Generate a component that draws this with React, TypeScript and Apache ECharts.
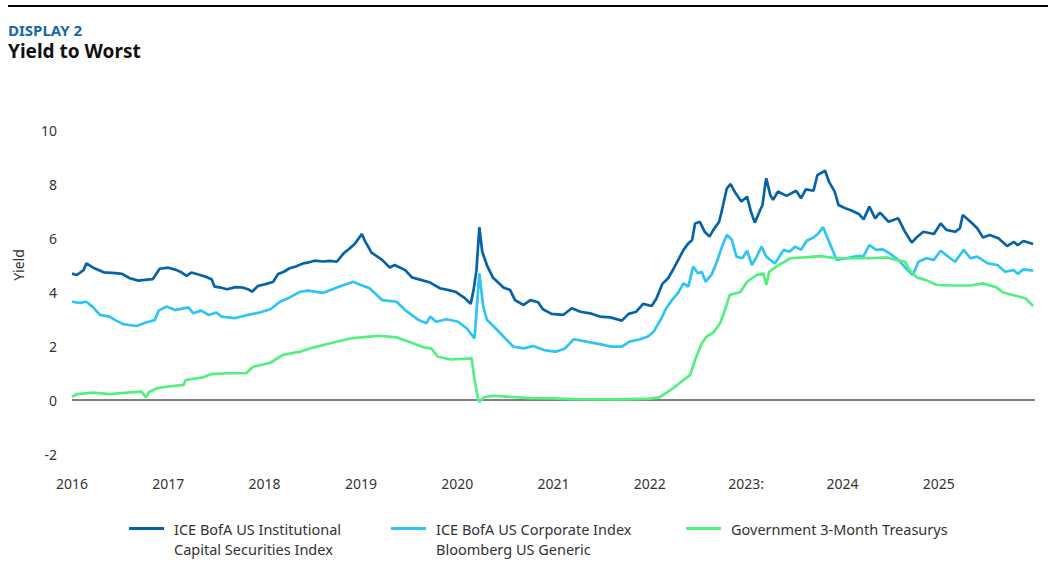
import React, { useEffect, useRef } from "react";
import * as echarts from "echarts";

// [decimal year, yield %]
const capSecurities: [number, number][] = [
  [2016.00,4.68],[2016.05,4.63],[2016.12,4.81],[2016.15,5.06],[2016.22,4.9],[2016.33,4.73],[2016.45,4.7],[2016.52,4.67],[2016.60,4.51],[2016.69,4.42],[2016.78,4.46],[2016.84,4.48],[2016.91,4.86],[2017.00,4.9],[2017.08,4.82],[2017.14,4.72],[2017.19,4.6],[2017.24,4.72],[2017.33,4.63],[2017.40,4.55],[2017.45,4.47],[2017.48,4.2],[2017.55,4.16],[2017.61,4.1],[2017.70,4.18],[2017.78,4.16],[2017.84,4.08],[2017.87,4.01],[2017.93,4.22],[2018.02,4.3],[2018.09,4.38],[2018.14,4.67],[2018.20,4.75],[2018.26,4.88],[2018.33,4.95],[2018.40,5.06],[2018.46,5.1],[2018.52,5.16],[2018.60,5.13],[2018.68,5.15],[2018.75,5.12],[2018.82,5.43],[2018.88,5.6],[2018.94,5.8],[2019.01,6.15],[2019.04,5.9],[2019.11,5.46],[2019.22,5.19],[2019.30,4.91],[2019.35,5.0],[2019.46,4.81],[2019.53,4.54],[2019.63,4.44],[2019.72,4.35],[2019.82,4.14],[2019.90,4.08],[2019.98,4.01],[2020.08,3.77],[2020.14,3.56],[2020.17,4.07],[2020.20,4.81],[2020.23,6.4],[2020.26,5.49],[2020.31,4.98],[2020.37,4.54],[2020.48,4.17],[2020.55,4.07],[2020.60,3.7],[2020.69,3.52],[2020.76,3.7],[2020.84,3.62],[2020.89,3.36],[2020.98,3.19],[2021.10,3.15],[2021.19,3.4],[2021.28,3.27],[2021.38,3.21],[2021.48,3.09],[2021.59,3.06],[2021.71,2.94],[2021.78,3.19],[2021.86,3.27],[2021.93,3.56],[2022.02,3.48],[2022.07,3.77],[2022.13,4.3],[2022.19,4.51],[2022.25,4.88],[2022.35,5.56],[2022.40,5.8],[2022.44,5.93],[2022.47,6.54],[2022.52,6.6],[2022.57,6.23],[2022.62,6.05],[2022.66,6.3],[2022.72,6.6],[2022.75,7.04],[2022.80,7.84],[2022.84,8.0],[2022.88,7.72],[2022.95,7.35],[2023.01,7.53],[2023.05,6.98],[2023.09,6.57],[2023.14,6.98],[2023.17,7.22],[2023.20,8.02],[2023.21,8.21],[2023.25,7.6],[2023.28,7.41],[2023.33,7.72],[2023.42,7.56],[2023.52,7.75],[2023.57,7.47],[2023.62,7.8],[2023.70,7.75],[2023.74,8.33],[2023.82,8.49],[2023.86,8.09],[2023.92,7.72],[2023.96,7.22],[2024.03,7.1],[2024.10,7.01],[2024.17,6.89],[2024.22,6.69],[2024.28,7.16],[2024.34,6.73],[2024.39,6.94],[2024.48,6.6],[2024.58,6.73],[2024.65,6.23],[2024.72,5.83],[2024.77,6.02],[2024.84,6.23],[2024.95,6.15],[2025.02,6.54],[2025.08,6.3],[2025.17,6.23],[2025.22,6.36],[2025.25,6.85],[2025.33,6.6],[2025.40,6.36],[2025.46,6.02],[2025.53,6.11],[2025.62,5.99],[2025.71,5.7],[2025.78,5.86],[2025.82,5.73],[2025.88,5.89],[2025.98,5.78]
];

const corporate: [number, number][] = [
  [2016.00,3.64],[2016.08,3.6],[2016.15,3.64],[2016.22,3.43],[2016.29,3.15],[2016.39,3.09],[2016.45,2.96],[2016.53,2.81],[2016.67,2.74],[2016.76,2.86],[2016.86,2.96],[2016.90,3.31],[2016.98,3.46],[2017.07,3.33],[2017.21,3.43],[2017.26,3.21],[2017.34,3.31],[2017.42,3.15],[2017.50,3.24],[2017.55,3.09],[2017.69,3.03],[2017.82,3.15],[2017.95,3.24],[2018.06,3.36],[2018.16,3.64],[2018.26,3.8],[2018.37,4.01],[2018.45,4.05],[2018.61,3.97],[2018.78,4.2],[2018.92,4.38],[2019.00,4.26],[2019.09,4.14],[2019.22,3.7],[2019.37,3.64],[2019.46,3.33],[2019.60,2.96],[2019.68,2.84],[2019.72,3.09],[2019.78,2.9],[2019.89,2.99],[2020.01,2.9],[2020.10,2.65],[2020.18,2.28],[2020.23,4.69],[2020.27,3.46],[2020.31,2.96],[2020.38,2.72],[2020.48,2.35],[2020.58,1.98],[2020.69,1.91],[2020.79,2.0],[2020.90,1.85],[2021.02,1.79],[2021.12,1.91],[2021.21,2.25],[2021.34,2.16],[2021.48,2.07],[2021.59,1.98],[2021.71,1.98],[2021.79,2.16],[2021.90,2.25],[2021.98,2.35],[2022.04,2.53],[2022.12,3.02],[2022.17,3.4],[2022.23,3.7],[2022.29,3.95],[2022.35,4.32],[2022.40,4.2],[2022.45,4.94],[2022.50,4.69],[2022.54,4.75],[2022.58,4.38],[2022.64,4.63],[2022.69,5.06],[2022.75,5.68],[2022.80,6.11],[2022.85,5.95],[2022.90,5.31],[2022.96,5.25],[2023.01,5.53],[2023.06,5.0],[2023.11,5.31],[2023.16,5.68],[2023.21,5.31],[2023.25,5.19],[2023.30,5.06],[2023.39,5.56],[2023.45,5.49],[2023.51,5.68],[2023.57,5.56],[2023.63,5.9],[2023.70,6.02],[2023.75,6.17],[2023.80,6.4],[2023.84,6.05],[2023.89,5.62],[2023.94,5.19],[2024.04,5.25],[2024.15,5.33],[2024.22,5.33],[2024.28,5.74],[2024.35,5.56],[2024.42,5.58],[2024.49,5.43],[2024.58,5.19],[2024.67,4.84],[2024.73,4.63],[2024.79,5.12],[2024.87,5.25],[2024.95,5.19],[2025.02,5.53],[2025.12,5.25],[2025.17,5.12],[2025.26,5.56],[2025.33,5.25],[2025.40,5.31],[2025.51,5.06],[2025.61,5.0],[2025.69,4.75],[2025.78,4.81],[2025.82,4.67],[2025.88,4.84],[2025.98,4.79]
];

const treasury3m: [number, number][] = [
  [2016.00,0.12],[2016.05,0.22],[2016.22,0.27],[2016.39,0.22],[2016.57,0.27],[2016.72,0.31],[2016.77,0.1],[2016.80,0.3],[2016.88,0.43],[2016.98,0.49],[2017.16,0.56],[2017.18,0.74],[2017.36,0.84],[2017.45,0.96],[2017.61,0.99],[2017.81,0.99],[2017.88,1.23],[2018.06,1.38],[2018.19,1.67],[2018.37,1.79],[2018.47,1.91],[2018.68,2.1],[2018.89,2.28],[2019.09,2.35],[2019.19,2.38],[2019.37,2.32],[2019.45,2.22],[2019.54,2.1],[2019.65,1.95],[2019.73,1.91],[2019.80,1.6],[2019.93,1.5],[2020.15,1.54],[2020.18,0.74],[2020.22,0.0],[2020.23,-0.06],[2020.29,0.12],[2020.39,0.15],[2020.76,0.07],[2020.98,0.06],[2021.20,0.03],[2021.70,0.02],[2022.00,0.05],[2022.10,0.1],[2022.24,0.43],[2022.35,0.74],[2022.42,0.93],[2022.47,1.48],[2022.54,2.1],[2022.59,2.35],[2022.66,2.5],[2022.73,2.84],[2022.78,3.33],[2022.83,3.89],[2022.94,4.0],[2023.01,4.38],[2023.11,4.63],[2023.18,4.69],[2023.21,4.26],[2023.24,4.75],[2023.29,4.88],[2023.34,5.0],[2023.40,5.12],[2023.46,5.25],[2023.60,5.28],[2023.77,5.33],[2023.94,5.25],[2024.11,5.25],[2024.29,5.25],[2024.46,5.28],[2024.56,5.19],[2024.65,5.12],[2024.70,4.81],[2024.77,4.54],[2024.87,4.44],[2024.98,4.26],[2025.14,4.24],[2025.33,4.24],[2025.46,4.32],[2025.60,4.17],[2025.67,3.98],[2025.81,3.85],[2025.90,3.77],[2025.98,3.48]
];

const yearTicks = [2016, 2017, 2018, 2019, 2020, 2021, 2022, 2023, 2024, 2025];
const yearLabels = ["2016", "2017", "2018", "2019", "2020", "2021", "2022", "2023:", "2024", "2025"];

const seriesNames = [
  "ICE BofA US Institutional\nCapital Securities Index",
  "ICE BofA US Corporate Index\nBloomberg US Generic",
  "Government 3-Month Treasurys",
];
const seriesColors = ["#0763A8", "#2EC4F5", "#52F07E"];

const FONT = "'Noto Sans', 'Open Sans', sans-serif";

export default function App() {
  const ref = useRef<HTMLDivElement>(null);
  useEffect(() => {
    if (!ref.current) return;
    const chart = echarts.init(ref.current, null, { renderer: "svg" });
    const datasets = [capSecurities, corporate, treasury3m];
    const legendLefts = [129, 391, 686];
    const secondLines: any[] = [];
    seriesNames.forEach((n, i) => {
      const parts = n.split("\n");
      if (parts.length > 1) {
        secondLines.push({
          type: "text",
          x: legendLefts[i] + 45,
          y: 549,
          style: {
            text: parts[1],
            fill: "#333",
            font: `14.5px ${FONT}`,
            verticalAlign: "middle",
          },
        });
      }
    });
    chart.setOption({
      animation: false,
      textStyle: { fontFamily: FONT },
      grid: { left: 72, right: 21, top: 130, bottom: 108, containLabel: false },
      xAxis: {
        type: "value",
        min: 2016,
        max: 2026,
        interval: 1,
        axisLine: { show: false },
        axisTick: { show: false },
        splitLine: { show: false },
        axisLabel: {
          margin: 22,
          fontSize: 14,
          color: "#333",
          fontFamily: FONT,
          formatter: (v: number) => {
            const i = yearTicks.indexOf(Math.round(v));
            return i >= 0 ? yearLabels[i] : "";
          },
        },
      },
      yAxis: {
        type: "value",
        min: -2,
        max: 10,
        interval: 2,
        axisLine: { show: false },
        axisTick: { show: false },
        splitLine: { show: false },
        axisLabel: { margin: 15, fontSize: 14, color: "#333", fontFamily: FONT },
      },
      legend: seriesNames.map((n, i) => ({
        data: [n],
        left: legendLefts[i],
        top: 519,
        padding: 0,
        icon: "rect",
        itemWidth: 35,
        itemHeight: 3,
        formatter: (name: string) => name.split("\n")[0],
        textStyle: {
          fontSize: 14.5,
          color: "#333",
          fontFamily: FONT,
          lineHeight: 19,
          padding: [0, 0, 0, 5],
        },
      })),
      graphic: [
        {
          type: "rect",
          shape: { x: 8, y: 5, width: 1040, height: 2 },
          style: { fill: "#000" },
        },
        {
          type: "text",
          x: 8,
          y: 22,
          style: { text: "DISPLAY 2", fill: "#1767AE", font: `bold 15px ${FONT}` },
        },
        {
          type: "text",
          x: 8,
          y: 41,
          style: { text: "Yield to Worst", fill: "#111", font: `bold 19px ${FONT}` },
        },
        {
          type: "text",
          x: 18,
          y: 265,
          rotation: Math.PI / 2,
          style: {
            text: "Yield",
            fill: "#333",
            font: `14px ${FONT}`,
            align: "center",
            verticalAlign: "middle",
          },
        },
        ...secondLines,
      ],
      series: datasets.map((d, i) => ({
        name: seriesNames[i],
        type: "line",
        data: d,
        showSymbol: false,
        symbol: "none",
        lineStyle: { color: seriesColors[i], width: 2.7 },
        itemStyle: { color: seriesColors[i] },
        z: 3 + i,
        markLine:
          i === 0
            ? {
                silent: true,
                symbol: "none",
                label: { show: false },
                lineStyle: { color: "#808080", width: 2, type: "solid" },
                data: [{ yAxis: 0 }],
              }
            : undefined,
      })),
    });
    return () => chart.dispose();
  }, []);
  return (
    <div
      ref={ref}
      style={{ position: "fixed", left: 0, top: 0, width: 1056, height: 562, background: "#fff" }}
    />
  );
}
